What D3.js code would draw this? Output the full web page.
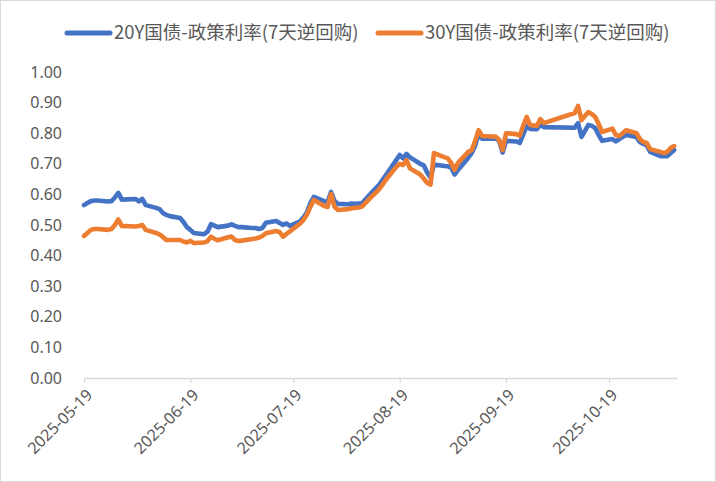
<!DOCTYPE html>
<html><head><meta charset="utf-8">
<script src="https://cdn.jsdelivr.net/npm/d3@7"></script>
<style>
html,body{margin:0;padding:0;background:#fff;}
svg{display:block;font-family:"Noto Sans","Noto Sans CJK SC",sans-serif;}
</style></head>
<body><svg id="c" width="716" height="482"></svg>
<script>
const dates = [
"2025-05-19","2025-05-20","2025-05-21","2025-05-22","2025-05-23","2025-05-26","2025-05-27","2025-05-28","2025-05-29","2025-05-30",
"2025-06-03","2025-06-04","2025-06-05","2025-06-06","2025-06-09","2025-06-10","2025-06-11","2025-06-12","2025-06-13","2025-06-16",
"2025-06-17","2025-06-18","2025-06-19","2025-06-20","2025-06-23","2025-06-24","2025-06-25","2025-06-26","2025-06-27","2025-06-30",
"2025-07-01","2025-07-02","2025-07-03","2025-07-04","2025-07-07","2025-07-08","2025-07-09","2025-07-10","2025-07-11","2025-07-14",
"2025-07-15","2025-07-16","2025-07-17","2025-07-18","2025-07-21","2025-07-22","2025-07-23","2025-07-24","2025-07-25","2025-07-28",
"2025-07-29","2025-07-30","2025-07-31",
"2025-08-01","2025-08-04","2025-08-05","2025-08-06","2025-08-07","2025-08-08","2025-08-11","2025-08-12","2025-08-13","2025-08-14",
"2025-08-15","2025-08-18","2025-08-19","2025-08-20","2025-08-21","2025-08-22","2025-08-25","2025-08-26","2025-08-27","2025-08-28",
"2025-08-29",
"2025-09-01","2025-09-02","2025-09-03","2025-09-04","2025-09-05","2025-09-08","2025-09-09","2025-09-10","2025-09-11","2025-09-12",
"2025-09-15","2025-09-16","2025-09-17","2025-09-18","2025-09-19","2025-09-22","2025-09-23","2025-09-24","2025-09-25","2025-09-26",
"2025-09-28","2025-09-29","2025-09-30",
"2025-10-09","2025-10-10","2025-10-11","2025-10-13","2025-10-14","2025-10-15","2025-10-16","2025-10-17","2025-10-20","2025-10-21",
"2025-10-22","2025-10-23","2025-10-24","2025-10-27","2025-10-28","2025-10-29","2025-10-30","2025-10-31",
"2025-11-03","2025-11-04","2025-11-05","2025-11-06","2025-11-07"
];
const spread20Y = [
0.565,0.572,0.578,0.580,0.580,0.577,0.578,0.590,0.605,0.583,
0.585,0.577,0.585,0.565,0.556,0.552,0.539,0.533,0.529,0.523,
0.510,0.493,0.484,0.474,0.470,0.478,0.503,0.498,0.493,0.498,
0.502,0.497,0.493,0.493,0.490,0.490,0.487,0.490,0.507,0.513,
0.507,0.500,0.505,0.497,0.512,0.525,0.542,0.572,0.592,0.578,
0.575,0.608,0.578,
0.569,0.568,0.570,0.569,0.570,0.571,0.608,0.620,0.631,0.647,
0.663,0.712,0.729,0.718,0.732,0.721,0.700,0.695,0.672,0.655,
0.698,
0.693,0.692,0.688,0.665,0.680,0.720,0.735,0.760,0.797,0.782,
0.782,0.783,0.775,0.737,0.775,0.773,0.768,0.795,0.822,0.814,
0.813,0.828,0.820,
0.818,0.833,0.788,0.827,0.824,0.817,0.794,0.775,0.781,0.773,
0.781,0.788,0.794,0.788,0.771,0.765,0.761,0.739,
0.725,0.725,0.725,0.735,0.745
];
const spread30Y = [
0.464,0.474,0.484,0.487,0.487,0.484,0.487,0.500,0.518,0.497,
0.495,0.497,0.500,0.484,0.474,0.469,0.461,0.451,0.451,0.451,
0.446,0.443,0.448,0.441,0.443,0.447,0.462,0.455,0.450,0.460,
0.462,0.451,0.448,0.449,0.454,0.456,0.459,0.464,0.473,0.480,
0.477,0.462,0.471,0.479,0.505,0.517,0.534,0.560,0.582,0.562,
0.559,0.601,0.560,
0.549,0.552,0.555,0.556,0.557,0.560,0.595,0.605,0.617,0.632,
0.648,0.690,0.700,0.696,0.712,0.685,0.665,0.652,0.638,0.632,
0.735,
0.722,0.718,0.703,0.680,0.703,0.739,0.745,0.775,0.810,0.791,
0.789,0.789,0.778,0.745,0.800,0.797,0.792,0.824,0.853,0.827,
0.824,0.846,0.833,
0.866,0.889,0.843,0.869,0.863,0.853,0.830,0.804,0.815,0.794,
0.791,0.800,0.810,0.800,0.781,0.771,0.768,0.748,
0.739,0.735,0.739,0.752,0.758
];
const seriesNames = ["20Y国债-政策利率(7天逆回购)","30Y国债-政策利率(7天逆回购)"];
const seriesColors = ["#4472C4","#ED7D31"];
const xTickLabels = ["2025-05-19","2025-06-19","2025-07-19","2025-08-19","2025-09-19","2025-10-19"];
const yTicks = [0,0.1,0.2,0.3,0.4,0.5,0.6,0.7,0.8,0.9,1.0];
const xDomainEnd = "2025-11-08";

const parse = d3.timeParse("%Y-%m-%d");
const svg = d3.select("#c");
svg.append("rect").attr("x",0.5).attr("y",0.5).attr("width",715).attr("height",481)
  .attr("fill","#fff").attr("stroke","#d9d9d9");

const x = d3.scaleTime().domain([parse(dates[0]), parse(xDomainEnd)]).range([84, 677.6]);
const y = d3.scaleLinear().domain([0,1]).range([378, 72]);

// y axis labels
const ya = svg.append("g").attr("transform","translate(70,0)")
  .call(d3.axisLeft(y).tickValues(yTicks).tickFormat(d3.format(".2f")).tickSize(0).tickPadding(8));
ya.select(".domain").remove();
ya.selectAll("text").attr("fill","#595959").style("font-size","16px").style("font-family","'Noto Sans',sans-serif");

// x axis
const xa = svg.append("g").attr("transform","translate(0,378)")
  .call(d3.axisBottom(x).tickValues(xTickLabels.map(parse)).tickFormat(d3.timeFormat("%Y-%m-%d")).tickSize(5).tickSizeOuter(0));
xa.select(".domain").attr("stroke","#d9d9d9").attr("stroke-width",1.5).attr("d","M84,0.5H677.6");
xa.selectAll(".tick line").attr("stroke","#d9d9d9").attr("stroke-width",1.2);
xa.selectAll(".tick text")
  .attr("fill","#595959").style("font-size","16px").style("font-family","'Noto Sans',sans-serif")
  .attr("text-anchor","end").attr("x",0).attr("y",0).attr("dy","0.35em")
  .attr("transform","translate(5,14) rotate(-45)");

// lines
const pts = (vals) => dates.map((d,i)=>({d:parse(d), v:vals[i]}));
const line = d3.line().x(p=>x(p.d)).y(p=>y(p.v));
[spread20Y, spread30Y].forEach((vals,i)=>{
  svg.append("path").datum(pts(vals)).attr("d",line)
    .attr("fill","none").attr("stroke",seriesColors[i]).attr("stroke-width",4.6)
    .attr("stroke-linejoin","round").attr("stroke-linecap","round");
});

// legend
const lg = svg.append("g");
const legX = [67, 378];
seriesNames.forEach((n,i)=>{
  lg.append("line").attr("x1",legX[i]).attr("x2",legX[i]+43).attr("y1",33).attr("y2",33)
    .attr("stroke",seriesColors[i]).attr("stroke-width",5).attr("stroke-linecap","round");
  lg.append("text").attr("x",legX[i]+47).attr("y",33).attr("dy","0.35em")
    .attr("fill","#595959").style("font-size","18.5px")
    .style("font-family","'Noto Sans CJK SC','Noto Sans',sans-serif").text(n);
});
</script></body></html>
